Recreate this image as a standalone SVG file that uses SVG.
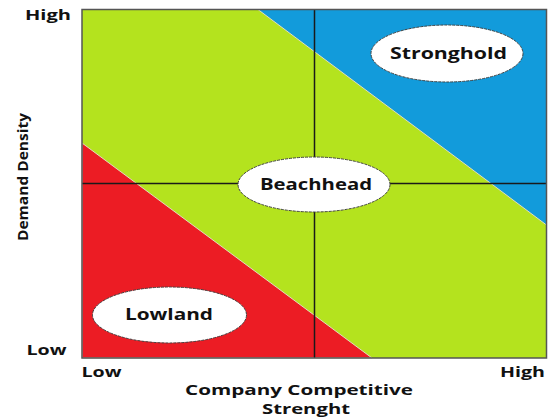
<svg xmlns="http://www.w3.org/2000/svg" width="550" height="419" viewBox="0 0 550 419">
<style>
text{font-family:"Open Sans","Liberation Sans",sans-serif;font-weight:bold;fill:#111;}
.ax{font-size:14px;}
.lbl{font-size:16px;}
.oval{fill:#fff;stroke:#444;stroke-width:1;stroke-dasharray:3 1;}
.mid{stroke:#1a1a1a;stroke-width:1.5;fill:none;}
.diag{stroke:#e0dcc0;stroke-width:1;}
</style>
<rect width="550" height="419" fill="#fff"/>
<g id="regions">
<rect id="green" x="82" y="9.5" width="464.5" height="348.5" fill="#b4e31e"/>
<polygon id="blue" points="258,9.5 546.5,9.5 546.5,225" fill="#129bdb" class="diag"/>
<polygon id="red" points="82,143 82,358 372,358" fill="#ec1c24" class="diag"/>
</g>
<g id="connectors">
<line class="mid" x1="314.5" y1="9.5" x2="314.5" y2="358"/>
<line class="mid" x1="82" y1="183.5" x2="546.5" y2="183.5"/>
</g>
<rect x="82" y="9.5" width="464.5" height="348.5" fill="none" stroke="#555" stroke-width="1.5"/>
<g id="stronghold">
<ellipse class="oval" cx="447" cy="53.5" rx="76" ry="28.5"/>
<text class="lbl" x="390" y="58.5" textLength="117" lengthAdjust="spacingAndGlyphs">Stronghold</text>
</g>
<g id="beachhead">
<ellipse class="oval" cx="314" cy="184.5" rx="76" ry="27.5"/>
<text class="lbl" x="260" y="189.5" textLength="112" lengthAdjust="spacingAndGlyphs">Beachhead</text>
</g>
<g id="lowland">
<ellipse class="oval" cx="169.5" cy="315" rx="77" ry="28"/>
<text class="lbl" x="125" y="320" textLength="88" lengthAdjust="spacingAndGlyphs">Lowland</text>
</g>
<g id="axes">
<text class="ax" x="25" y="20" textLength="46" lengthAdjust="spacingAndGlyphs">High</text>
<text class="ax" x="26.5" y="355" textLength="40" lengthAdjust="spacingAndGlyphs">Low</text>
<text class="ax" x="81.5" y="377" textLength="40" lengthAdjust="spacingAndGlyphs">Low</text>
<text class="ax" x="500" y="377" textLength="45" lengthAdjust="spacingAndGlyphs">High</text>
<text class="ax" x="185" y="395" textLength="228" lengthAdjust="spacingAndGlyphs">Company Competitive</text>
<text class="ax" x="262" y="414" textLength="88" lengthAdjust="spacingAndGlyphs">Strenght</text>
<text class="ax" transform="translate(28,241) rotate(-90)" x="0" y="0" textLength="128" lengthAdjust="spacingAndGlyphs">Demand Density</text>
</g>
</svg>
